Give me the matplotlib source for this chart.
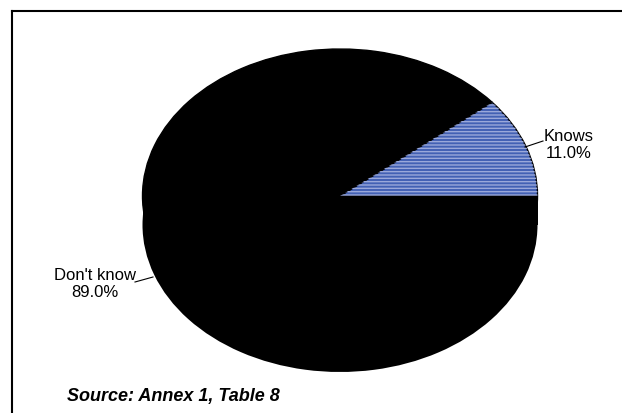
import matplotlib.pyplot as plt
from matplotlib.lines import Line2D

labels = ["Knows", "Don't know"]
shares = [11.0, 89.0]
colors = ["#4361B4", "#000000"]

plt.rcParams['font.family'] = ['Liberation Sans', 'DejaVu Sans']

W, H = 622, 414
fig = plt.figure(figsize=(W / 100, H / 100), dpi=100)
ax = fig.add_axes([0, 0, 1, 1])

# pixel geometry of the tilted (3-D look) pie
cx, cy = 340, 197
sx, sy = 197.5, 147
depth = 29 / sy

# side of the pie: the same pie pushed down, plus the band between
ax.pie(shares, colors=['black', 'black'], center=(0, -depth),
       wedgeprops=dict(linewidth=0))
ax.fill_between([-1, 1], -depth, 0, color='black', linewidth=0)

# top face
wedges, _ = ax.pie(shares, colors=colors, startangle=0, counterclock=True,
                   wedgeprops=dict(edgecolor='black', linewidth=1))
# white stripes on the "Knows" slice
over, _ = ax.pie(shares, colors=['none', 'none'], startangle=0, counterclock=True,
                 wedgeprops=dict(linewidth=0))
over[0].set_hatch('-----')
over[0].set_edgecolor('#9AA8DA')
over[1].set_visible(False)

ax.set_aspect('auto')
ax.set_xlim(-cx / sx, (W - cx) / sx)
ax.set_ylim(-(H - cy) / sy, cy / sy)
ax.axis('off')

def px(x, y):
    return (x - cx) / sx, (cy - y) / sy

# labels with leader lines
for lab, val, (tx, ty), (l0, l1) in [
    (labels[0], shares[0], (569, 145), ((525, 148), (543, 142))),
    (labels[1], shares[1], (95, 284), ((135, 283), (153, 278))),
]:
    x, y = px(tx, ty)
    ax.text(x, y, f"{lab}\n{val:.1f}%", ha='center', va='center', fontsize=12,
            linespacing=1.1)
    (x0, y0), (x1, y1) = px(*l0), px(*l1)
    ax.plot([x0, x1], [y0, y1], color='black', linewidth=0.8)

fig.text(67 / W, 1 - 397 / H, "Source: Annex 1, Table 8", fontsize=13,
         fontweight='bold', fontstyle='italic', va='center', ha='left')

# frame (top and left only visible)
fig.add_artist(Line2D([12 / W, 1], [1 - 12 / H, 1 - 12 / H], color='black', linewidth=1.5))
fig.add_artist(Line2D([12 / W, 12 / W], [0, 1 - 12 / H], color='black', linewidth=1.5))

fig.savefig('out.png', dpi=100)
